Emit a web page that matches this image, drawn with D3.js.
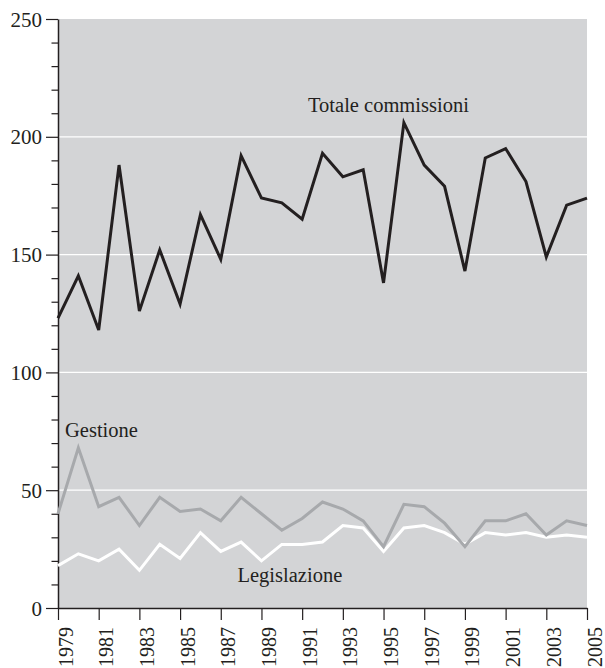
<!DOCTYPE html>
<html>
<head>
<meta charset="utf-8">
<script src="https://cdn.jsdelivr.net/npm/d3@7"></script>
<style>
html,body{margin:0;padding:0;background:#fff;}
svg{display:block;}
text{font-family:"Liberation Serif","DejaVu Serif",serif;fill:#231f20;}
</style>
</head>
<body>
<svg id="chart" width="605" height="668"></svg>
<script>
const years = d3.range(1979, 2006);
const totale = [123,141,118,188,126,152,129,167,148,192,174,172,165,193,183,186,138,206,188,179,143,191,195,181,149,171,174];
const gestione = [40,68,43,47,35,47,41,42,37,47,40,33,38,45,42,37,26,44,43,36,26,37,37,40,31,37,35];
const legislazione = [18,23,20,25,16,27,21,32,24,28,20,27,27,28,35,34,24,34,35,32,27,32,31,32,30,31,30];
const yTicksMajor = [0,50,100,150,200,250];
const xTickYears = d3.range(1979, 2006, 2);

const svg = d3.select("#chart");
const L = 58, R = 587, T = 19, B = 608;
const x = d3.scaleLinear().domain([1979, 2005]).range([L, R]);
const y = d3.scaleLinear().domain([0, 250]).range([B, T]);

svg.append("rect").attr("x", L).attr("y", T).attr("width", R - L).attr("height", B - T).attr("fill", "#d3d4d6");

// gridlines
svg.append("g").selectAll("line").data([50,100,150,200]).join("line")
  .attr("x1", L).attr("x2", R).attr("y1", d => y(d)).attr("y2", d => y(d))
  .attr("stroke", "#fff").attr("stroke-width", 1.3);

// y axis minor ticks
const yMinor = d3.range(0, 251, 10).filter(v => v % 50 !== 0);
svg.append("g").attr("transform", `translate(${L},0)`)
  .call(d3.axisLeft(y).tickValues(yMinor).tickSize(6.5).tickFormat(""))
  .call(g => g.select(".domain").remove())
  .call(g => g.selectAll("line").attr("stroke", "#231f20").attr("stroke-width", 1.2));
// y axis major
svg.append("g").attr("transform", `translate(${L},0)`)
  .call(d3.axisLeft(y).tickValues(yTicksMajor).tickSize(12).tickSizeOuter(0).tickPadding(4).tickFormat(d3.format("d")))
  .call(g => g.select(".domain").attr("stroke", "#231f20").attr("stroke-width", 1.5))
  .call(g => g.selectAll("line").attr("stroke", "#231f20").attr("stroke-width", 1.2))
  .call(g => g.selectAll("text").attr("font-size", 21).attr("font-family", "Liberation Serif").attr("fill", "#231f20").attr("dy", "0.34em"));

// x axis
svg.append("g").attr("transform", `translate(0,${B})`)
  .call(d3.axisBottom(x).tickValues(xTickYears).tickSize(12).tickSizeOuter(0).tickFormat(d3.format("d")))
  .call(g => g.select(".domain").attr("stroke", "#231f20").attr("stroke-width", 1.5))
  .call(g => g.selectAll("line").attr("stroke", "#231f20").attr("stroke-width", 1.2))
  .call(g => g.selectAll("text")
    .attr("font-size", 20).attr("font-family", "Liberation Serif").attr("fill", "#231f20")
    .attr("transform", "rotate(-90)")
    .attr("text-anchor", "end")
    .attr("x", -19).attr("y", 0).attr("dy", "0.7em"));

const line = d3.line().x((d, i) => x(years[i])).y(d => y(d));
svg.append("path").datum(legislazione).attr("d", line).attr("fill", "none").attr("stroke", "#ffffff").attr("stroke-width", 3).attr("stroke-linejoin", "miter");
svg.append("path").datum(gestione).attr("d", line).attr("fill", "none").attr("stroke", "#a7a9ac").attr("stroke-width", 3).attr("stroke-linejoin", "miter");
svg.append("path").datum(totale).attr("d", line).attr("fill", "none").attr("stroke", "#231f20").attr("stroke-width", 3).attr("stroke-linejoin", "miter");

// labels
svg.append("text").attr("x", 308).attr("y", 112).attr("font-size", 20.5).text("Totale commissioni");
svg.append("text").attr("x", 65).attr("y", 437).attr("font-size", 20.5).text("Gestione");
svg.append("text").attr("x", 237.5).attr("y", 582).attr("font-size", 20.5).text("Legislazione");
</script>
</body>
</html>
